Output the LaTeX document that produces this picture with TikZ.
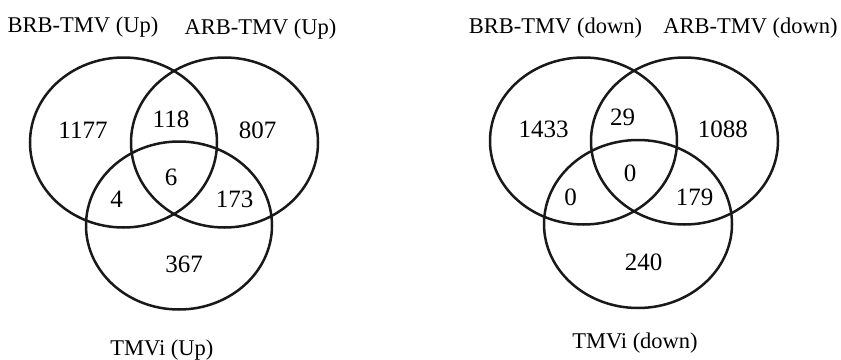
\documentclass[tikz,border=0pt]{standalone}
\usepackage{fontspec}
\setmainfont{Liberation Serif}
\begin{document}
\begin{tikzpicture}[x=1pt,y=-1pt,
  setring/.style={draw=black!90,line width=2.5pt},
  lbl/.style={anchor=base,inner sep=0pt,font=\fontsize{22.5}{26}\selectfont},
  num/.style={anchor=base,inner sep=0pt,font=\fontsize{25}{29}\selectfont}]
\useasboundingbox (0,0) rectangle (841,359);
% left diagram
\draw[setring] (123.5,142.5) ellipse [x radius=93.5, y radius=85];
\draw[setring] (224.5,142.5) ellipse [x radius=93.5, y radius=85];
\draw[setring] (179,225.5) ellipse [x radius=93, y radius=84];
\node[lbl] (lA) at (83,32) {BRB-TMV (Up)};
\node[lbl] (lB) at (260.5,34) {ARB-TMV (Up)};
\node[lbl] (lC) at (162,355) {TMVi (Up)};
\node[num] (l1) at (83,138) {1177};
\node[num] (l2) at (171,127) {118};
\node[num] (l3) at (257.7,138) {807};
\node[num] (l4) at (171,185) {6};
\node[num] (l5) at (116.7,207) {4};
\node[num] (l6) at (234.5,207) {173};
\node[num] (l7) at (184,272) {367};
% right diagram
\draw[setring] (583.5,141) ellipse [x radius=93.5, y radius=83.5];
\draw[setring] (684.5,141) ellipse [x radius=93.5, y radius=83.5];
\draw[setring] (638,224) ellipse [x radius=94, y radius=84];
\node[lbl] (rA) at (555.5,33) {BRB-TMV (down)};
\node[lbl] (rB) at (750.5,33) {ARB-TMV (down)};
\node[lbl] (rC) at (635,348) {TMVi (down)};
\node[num] (r1) at (543.7,137) {1433};
\node[num] (r2) at (622.5,125) {29};
\node[num] (r3) at (722.8,137) {1088};
\node[num] (r4) at (630,181) {0};
\node[num] (r5) at (570.7,205) {0};
\node[num] (r6) at (694.7,205) {179};
\node[num] (r7) at (643.5,270) {240};
\end{tikzpicture}
\end{document}
